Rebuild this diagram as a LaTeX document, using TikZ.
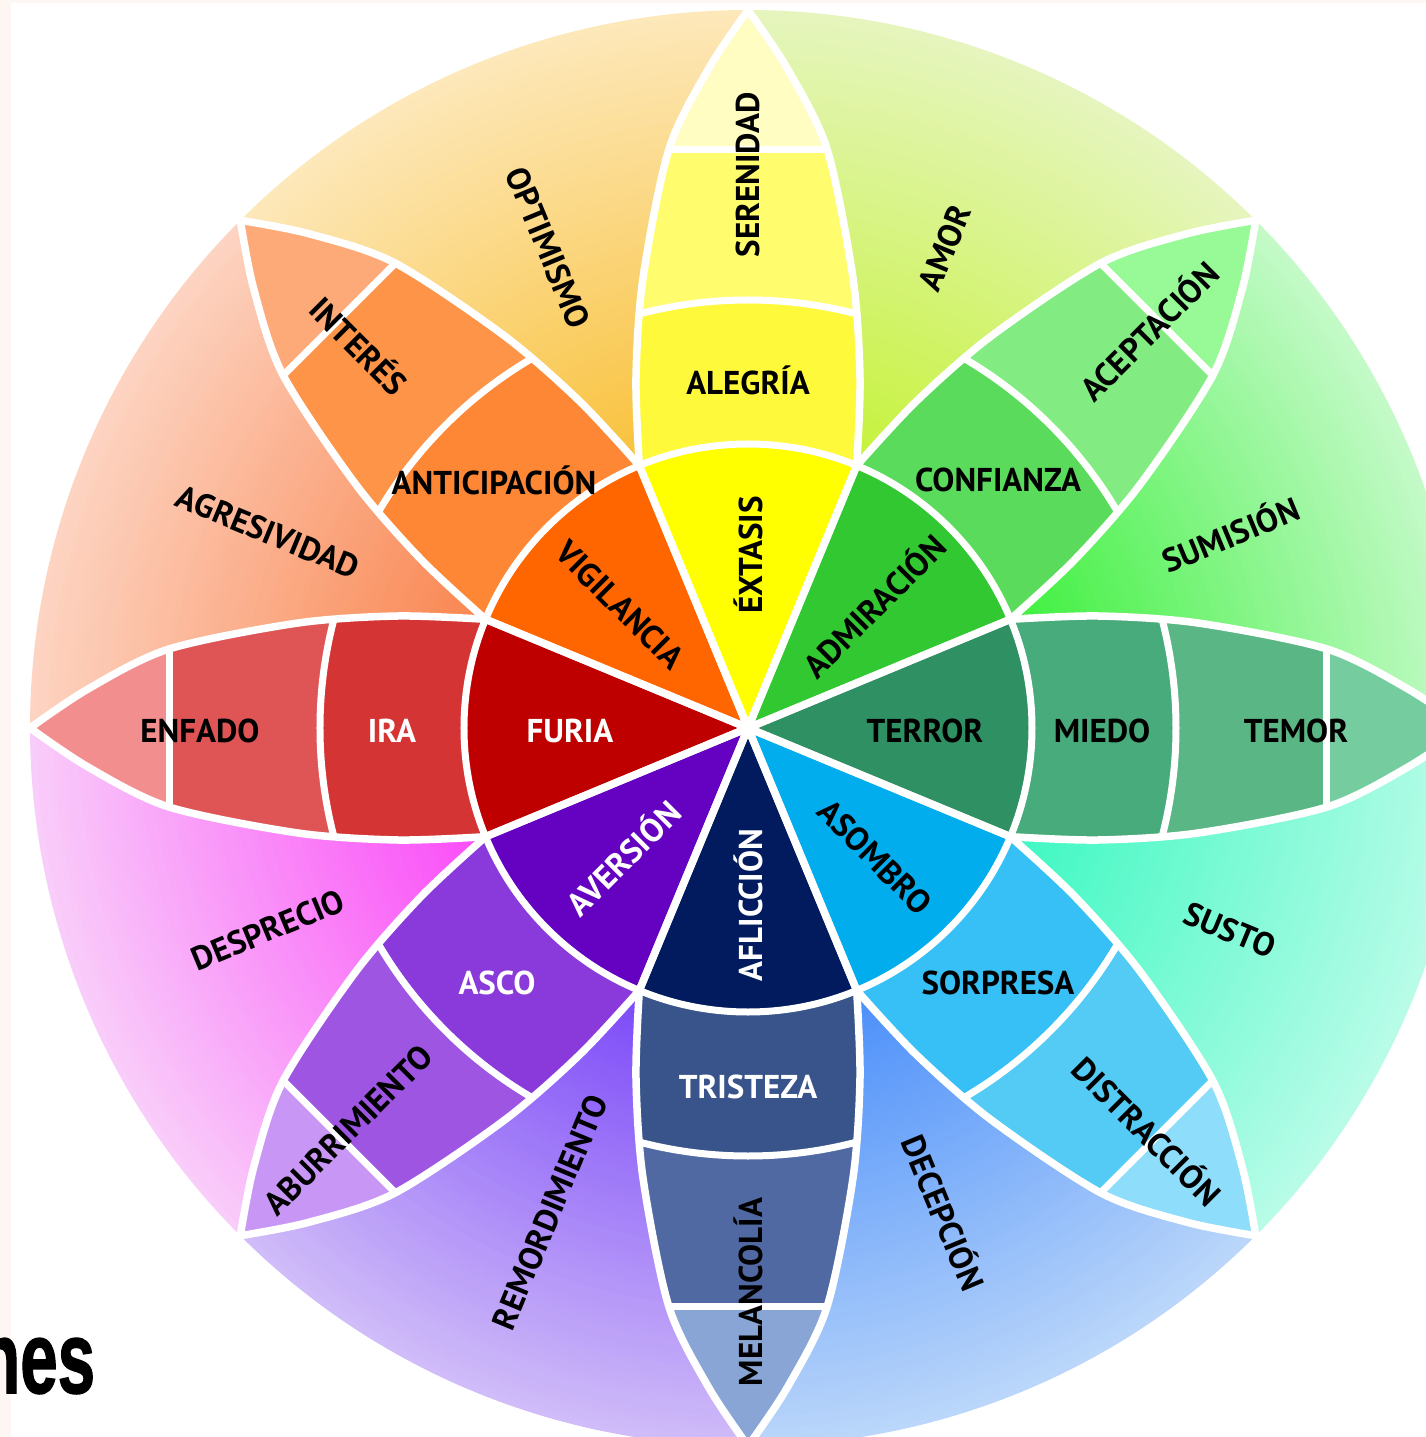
\documentclass[tikz,border=0pt]{standalone}
\usepackage{fontspec}
\setmainfont{PT Sans}
\newfontfamily\headfont{Liberation Sans}[BoldFeatures={FakeBold=1.5}]
\definecolor{strip}{HTML}{FEF6F2}
\begin{document}
\begin{tikzpicture}[x=1pt,y=1pt,
  lab/.style={font=\bfseries\fontsize{33}{33}\selectfont, inner sep=0pt, text=black},
  wlab/.style={lab, text=white},
  sep/.style={draw=white, line width=7pt},
  edge/.style={draw=white, line width=7.5pt, line join=round},
]
\clip (-748,-709) rectangle (678,728);
\fill[white] (-748,-709) rectangle (678,728);
\fill[strip] (-748,-709) rectangle (-737,728);
\fill[strip] (-748,725) rectangle (678,728);

% ---- secondary emotions: radial fades between the petals ----
\foreach \a/\ci/\co in {22.5/40F040/C4FAC8, 67.5/C6F23C/E6F5BE,
    112.5/F9C23C/FDE8BA, 157.5/F98650/FDD4C2, 202.5/FA4CF8/F9CDF9,
    247.5/7C4AF8/D0BCF8, 292.5/4C8FFA/BAD6FA, 337.5/3EF8C2/B8FCE8} {
  \definecolor{dIn}{HTML}{\ci}
  \definecolor{dOut}{HTML}{\co}
  \foreach \R in {718,712,...,280} {
    \pgfmathtruncatemacro\t{max(0,min(100,(\R-290)/(718-290)*100))}
    \fill[dOut!\t!dIn] (0,0) -- (\a-22.6:\R)
      arc[start angle=\a-22.6, end angle=\a+22.6, radius=\R] -- cycle;
  }
}

% ---- petals: inner sector, two bands and a pale tip ----
\foreach \rot/\ct/\cb/\cm/\cc in {
    0/74CC9F/5AB785/48AB7B/2E9063,
    45/97FA97/82EC82/5BDB5B/32C832,
    90/FFFDC2/FFFC6E/FFF93C/FFFF00,
    135/FEAA78/FD9448/FD8734/FF6600,
    180/F38E8E/DF5555/D53434/BF0000,
    225/C896F4/9D55E2/8A3ADB/6501C1,
    270/88A5D5/5069A3/38548B/011B5E,
    315/8DDDFB/54CBF5/36C0F6/02ADEE} {
  \definecolor{pTip}{HTML}{\ct}
  \definecolor{pOut}{HTML}{\cb}
  \definecolor{pMid}{HTML}{\cm}
  \definecolor{pCore}{HTML}{\cc}
  \begin{scope}[rotate=\rot]
    \clip (0,0) -- plot[smooth] coordinates {(262.4,108.7) (350,112) (450,105) (579,79) (660,39) (718,0)}
      -- plot[smooth] coordinates {(718,0) (660,-39) (579,-79) (450,-105) (350,-112) (262.4,-108.7)} -- cycle;
    \fill[pTip] (-10,-140) rectangle (730,140);
    \fill[pOut] (-10,-140) rectangle (578,140);
    \fill[pMid] (0,0) circle[radius=428];
    \fill[pCore] (0,0) circle[radius=284];
    \draw[sep] (578,-140) -- (578,140);
    \draw[sep] (0,0) circle[radius=428];
    \draw[sep] (0,0) circle[radius=284];
  \end{scope}
}
\foreach \rot in {0,45,...,315} {
  \draw[edge, rotate=\rot] (0,0) -- plot[smooth] coordinates {(262.4,108.7) (350,112) (450,105) (579,79) (660,39) (718,0)}
    -- plot[smooth] coordinates {(718,0) (660,-39) (579,-79) (450,-105) (350,-112) (262.4,-108.7)} -- cycle;
}

% ---- labels ----
\node[lab, rotate=90] (serenidad) at (0,553) {SERENIDAD};
\node[lab] (alegria) at (0,348) {ALEGRÍA};
\node[lab, rotate=90] (extasis) at (0,173) {ÉXTASIS};
\node[lab, rotate=-45] (vigilancia) at (-128,123) {VIGILANCIA};
\node[lab] (anticipacion) at (-254,248) {ANTICIPACIÓN};
\node[lab, rotate=-45] (interes) at (-388,383) {INTERÉS};
\node[lab, rotate=-67.5] (optimismo) at (-200,480) {OPTIMISMO};
\node[lab, rotate=67.5] (amor) at (197,480) {AMOR};
\node[lab] (confianza) at (250,248) {CONFIANZA};
\node[lab, rotate=45] (aceptacion) at (400,398) {ACEPTACIÓN};
\node[lab, rotate=45] (admiracion) at (125,123) {ADMIRACIÓN};
\node[lab, rotate=22.5] (sumision) at (482,195) {SUMISIÓN};
\node[lab, rotate=-22.5] (agresividad) at (-480,196) {AGRESIVIDAD};
\node[wlab] (furia) at (-178,-3) {FURIA};
\node[wlab] (ira) at (-356,-3) {IRA};
\node[lab] (enfado) at (-548,-3) {ENFADO};
\node[lab] (terror) at (177,-3) {TERROR};
\node[lab] (miedo) at (354,-3) {MIEDO};
\node[lab] (temor) at (548,-3) {TEMOR};
\node[lab, rotate=22.5] (desprecio) at (-480,-202) {DESPRECIO};
\node[lab, rotate=-22.5] (susto) at (482,-202) {SUSTO};
\node[wlab, rotate=45] (aversion) at (-126,-129) {AVERSIÓN};
\node[lab, rotate=-45] (asombro) at (127,-129) {ASOMBRO};
\node[wlab, rotate=90] (afliccion) at (0,-177) {AFLICCIÓN};
\node[wlab] (asco) at (-251,-255) {ASCO};
\node[lab] (sorpresa) at (250,-255) {SORPRESA};
\node[lab, rotate=45] (aburrimiento) at (-400,-402) {ABURRIMIENTO};
\node[lab, rotate=-45] (distraccion) at (400,-402) {DISTRACCIÓN};
\node[wlab] (tristeza) at (0,-359) {TRISTEZA};
\node[lab, rotate=90] (melancolia) at (0,-564) {MELANCOLÍA};
\node[lab, rotate=67.5] (remordimiento) at (-198,-484) {REMORDIMIENTO};
\node[lab, rotate=-67.5] (decepcion) at (197,-484) {DECEPCIÓN};

% ---- heading fragment ----
\node[font=\headfont\bfseries\fontsize{102}{102}\selectfont, xscale=0.66,
  anchor=base west, inner sep=0pt] (heading) at (-769,-665) {nes};
\end{tikzpicture}
\end{document}
